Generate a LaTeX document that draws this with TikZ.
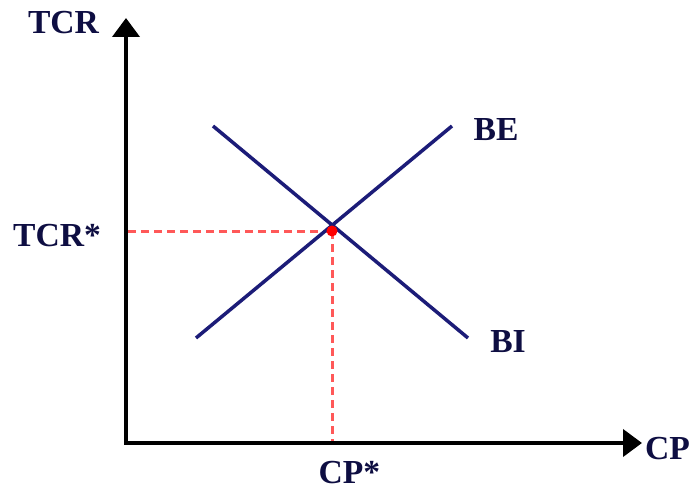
\documentclass[tikz,border=0pt]{standalone}
\usepackage{fontspec}
\setmainfont{Liberation Serif}
\usetikzlibrary{arrows.meta}
\definecolor{navy}{HTML}{1C1C78}
\definecolor{labelc}{HTML}{0E0E42}
\definecolor{dashred}{HTML}{FF5858}
\begin{document}
\begin{tikzpicture}[x=1pt,y=-1pt,
  axis/.style={line width=4pt,-{Triangle[length=19pt,width=27pt]}},
  curve/.style={navy,line width=3.5pt},
  guide/.style={dashred,line width=3pt,dash pattern=on 8pt off 5pt},
  lbl/.style={font=\fontsize{33.6}{40}\selectfont\bfseries,text=labelc,inner sep=0pt,anchor=center}]
\useasboundingbox (0,0) rectangle (693,489);
\coordinate (O) at (126,443);
\coordinate (ytip) at (126,18);
\coordinate (xtip) at (642,443);
\coordinate (be1) at (196,338);
\coordinate (be2) at (452,126);
\coordinate (bi1) at (213,126);
\coordinate (bi2) at (468,338);
\coordinate (eq) at (332,231);
\coordinate (eqy) at (128,231);
\coordinate (eqx) at (332,443);
\draw[guide] (eqy) -- (eq);
\draw[guide] (eq) -- (eqx);
\draw[curve] (be1) -- (be2);
\draw[curve] (bi1) -- (bi2);
\fill[red] (eq) circle (5.5pt);
\draw[axis] ([yshift=2pt]O) -- (ytip);
\draw[axis] ([xshift=-2pt]O) -- (xtip);
\node[lbl] (tcr) at (63.5,23) {TCR};
\node[lbl] (tcrs) at (57,236) {TCR*};
\node[lbl] (cps) at (349.5,473) {CP*};
\node[lbl] (cp) at (667.5,448.5) {CP};
\node[lbl] (be) at (496,130) {BE};
\node[lbl] (bi) at (508,341.5) {BI};
\end{tikzpicture}
\end{document}
